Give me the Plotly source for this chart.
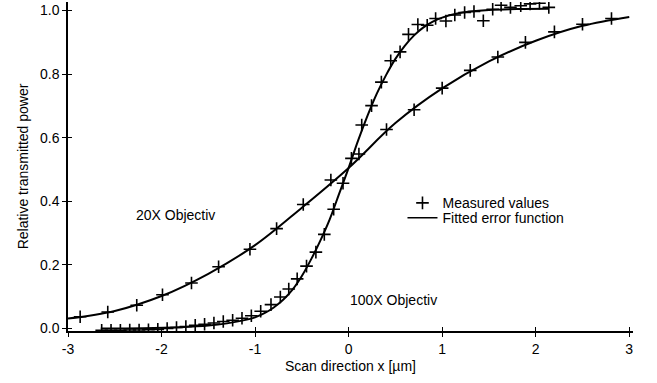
import plotly.graph_objects as go

# Measured values, 20X objective
x20_meas = [-2.87, -2.575, -2.265, -1.99, -1.68, -1.39, -1.055, -0.77, -0.485, -0.19,
            0.11, 0.405, 0.70, 1.00, 1.30, 1.595, 1.89, 2.20, 2.50, 2.81]
y20_meas = [0.037, 0.052, 0.073, 0.106, 0.143, 0.194, 0.249, 0.314, 0.39, 0.467,
            0.549, 0.626, 0.688, 0.756, 0.812, 0.854, 0.90, 0.933, 0.957, 0.975]

# Measured values, 100X objective
x100_meas = [-2.64, -2.54, -2.44, -2.34, -2.24, -2.14, -2.04, -1.94, -1.84, -1.74,
             -1.64, -1.54, -1.44, -1.34, -1.24, -1.14, -1.04, -0.94, -0.83, -0.73,
             -0.64, -0.55, -0.45, -0.35, -0.26, -0.16, -0.06, 0.03, 0.14, 0.245,
             0.35, 0.45, 0.55, 0.64, 0.74, 0.84, 0.93, 1.04, 1.135, 1.24,
             1.34, 1.44, 1.54, 1.63, 1.73, 1.84, 1.94, 2.04, 2.14]
y100_meas = [-0.006, -0.006, -0.006, -0.005, -0.005, -0.004, -0.003, 0.0, 0.003, 0.006,
             0.010, 0.013, 0.017, 0.022, 0.026, 0.032, 0.040, 0.054, 0.075, 0.099,
             0.124, 0.156, 0.196, 0.240, 0.296, 0.375, 0.457, 0.535, 0.640, 0.701,
             0.775, 0.842, 0.870, 0.925, 0.956, 0.954, 0.975, 0.967, 0.986, 0.994,
             0.997, 0.968, 1.004, 1.017, 1.010, 1.015, 1.021, 1.023, 1.010]

# Fitted error function curves
x20_fit = [-3.0, -2.5, -2.0, -1.5, -1.0, -0.5, 0.0, 0.5, 1.0, 1.5, 2.0, 2.5, 3.0]
y20_fit = [0.031, 0.055, 0.102, 0.172, 0.262, 0.38, 0.505, 0.646, 0.755, 0.84, 0.905, 0.952, 0.98]

x100_fit = [-2.65, -2.2, -1.8, -1.5, -1.3, -1.1, -1.0, -0.9, -0.8, -0.7, -0.6, -0.5, -0.4,
            -0.3, -0.2, -0.1, 0.0, 0.1, 0.2, 0.3, 0.4, 0.5, 0.6, 0.7, 0.8, 0.9, 1.0,
            1.15, 1.3, 1.5, 1.8, 2.14]
y100_fit = [0.0, 0.001, 0.004, 0.009, 0.016, 0.027, 0.035, 0.048, 0.066, 0.09, 0.122, 0.165, 0.218,
            0.278, 0.345, 0.425, 0.505, 0.59, 0.668, 0.738, 0.797, 0.848, 0.889, 0.922, 0.947, 0.965, 0.978,
            0.99, 0.997, 1.002, 1.005, 1.006]

x_ticks = [-3, -2, -1, 0, 1, 2, 3]
y_ticks = [0.0, 0.2, 0.4, 0.6, 0.8, 1.0]

FONT = "Liberation Sans, Arial, Helvetica, sans-serif"

fig = go.Figure()
marker_style = dict(symbol="cross-thin", size=9, color="black", line=dict(color="black", width=1.6))

fig.add_trace(go.Scatter(x=x20_fit, y=y20_fit, mode="lines", line=dict(color="black", width=2, shape="spline"),
                         name="Fitted error function", showlegend=False))
fig.add_trace(go.Scatter(x=x100_fit, y=y100_fit, mode="lines", line=dict(color="black", width=2, shape="spline"),
                         name="Fitted error function", showlegend=False))
fig.add_trace(go.Scatter(x=x20_meas, y=y20_meas, mode="markers", marker=marker_style,
                         name="Measured values", showlegend=True, legend="legend"))
fig.add_trace(go.Scatter(x=x100_meas, y=y100_meas, mode="markers", marker=marker_style,
                         name="Measured values", showlegend=False))
fig.add_trace(go.Scatter(x=[None], y=[None], mode="lines", line=dict(color="black", width=1.5),
                         name="Fitted error function", showlegend=True, legend="legend2"))

axis_common = dict(showgrid=False, zeroline=False, showline=True, linecolor="black", linewidth=1.5,
                   ticks="outside", ticklen=4, tickwidth=1.2, tickcolor="black",
                   tickfont=dict(family=FONT, size=14, color="black"))

legend_common = dict(xanchor="left", yanchor="top", bgcolor="rgba(0,0,0,0)",
                     font=dict(family=FONT, size=14, color="black"), tracegroupgap=0, itemwidth=30)

fig.update_layout(
    width=657, height=383,
    margin=dict(l=68, r=24, t=2, b=52),
    paper_bgcolor="white", plot_bgcolor="white",
    font=dict(family=FONT, size=14, color="black"),
    xaxis=dict(range=[-3, 3.04], tickvals=x_ticks, ticktext=[str(v) for v in x_ticks],
               title=dict(text="Scan direction x [µm]", font=dict(family=FONT, size=14), standoff=6),
               **axis_common),
    yaxis=dict(range=[-0.008, 1.027], tickvals=y_ticks, ticktext=[f"{v:.1f}" for v in y_ticks],
               title=dict(text="Relative transmitted power", font=dict(family=FONT, size=14), standoff=8),
               **axis_common),
    xaxis2=dict(overlaying="x", range=[-3, 3.04], tickvals=x_ticks, showticklabels=False, showgrid=False,
                zeroline=False, showline=False, ticks="inside", ticklen=4, tickwidth=1.2, tickcolor="black",
                side="bottom", anchor="y"),
    yaxis2=dict(overlaying="y", range=[-0.008, 1.027], tickvals=y_ticks, showticklabels=False, showgrid=False,
                zeroline=False, showline=False, ticks="inside", ticklen=4, tickwidth=1.2, tickcolor="black",
                side="left", anchor="x"),
    legend=dict(x=0.592, y=0.437, **legend_common),
    legend2=dict(x=0.592, y=0.392, **legend_common),
    showlegend=True,
)

# dummy trace to activate the secondary axes for the crossing ticks
fig.add_trace(go.Scatter(x=[None], y=[None], xaxis="x2", yaxis="y2", showlegend=False, hoverinfo="skip"))

fig.add_annotation(x=-1.85, y=0.356, text="20X Objectiv", showarrow=False,
                   font=dict(family=FONT, size=14, color="black"))
fig.add_annotation(x=0.48, y=0.091, text="100X Objectiv", showarrow=False,
                   font=dict(family=FONT, size=14, color="black"))

fig.write_html("out.html")
